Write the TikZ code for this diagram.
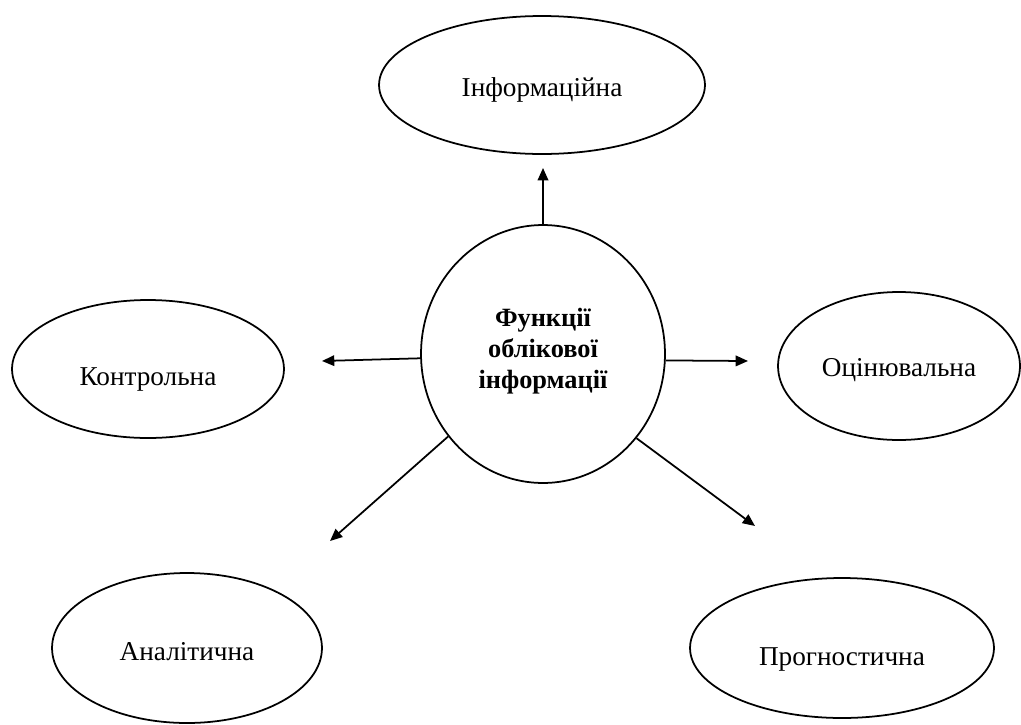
\documentclass[tikz,border=0pt]{standalone}
\usepackage{fontspec}
\setmainfont{Liberation Serif}
\usetikzlibrary{shapes.geometric,arrows.meta}
\tikzset{
  oval/.style={draw=black, line width=1pt, ellipse, inner sep=0pt, align=center},
  lbl/.style={font=\fontsize{15.5}{18}\selectfont, inner sep=0pt},
  arr/.style={draw=black, line width=1pt, -{Triangle[length=7pt,width=6pt]}},
}
\begin{document}
\begin{tikzpicture}[x=0.02cm,y=-0.02cm]
\useasboundingbox (0,0) rectangle (1021,724);
% centre
\node[oval, minimum width=4.88cm, minimum height=5.16cm,
  label={[lbl, name=ct, yshift=0.06cm, align=center,
    font=\fontsize{15}{17.6}\selectfont\bfseries]center:Функції\\облікової\\інформації}]
  (c) at (543,354) {};
% satellites
\node[oval, minimum width=6.52cm, minimum height=2.76cm,
  label={[lbl, name=inft, yshift=-0.1cm]center:Інформаційна}] (inf) at (542,85) {};
\node[oval, minimum width=5.44cm, minimum height=2.76cm,
  label={[lbl, name=kont, yshift=-0.2cm]center:Контрольна}] (kon) at (148,369) {};
\node[oval, minimum width=4.84cm, minimum height=2.96cm,
  label={[lbl, name=oct, yshift=-0.08cm]center:Оцінювальна}] (oc) at (899,366) {};
\node[oval, minimum width=5.40cm, minimum height=3.00cm,
  label={[lbl, name=ant, yshift=-0.08cm]center:Аналітична}] (an) at (187,648) {};
\node[oval, minimum width=6.08cm, minimum height=2.80cm,
  label={[lbl, name=prt, yshift=-0.22cm]center:Прогностична}] (pr) at (842,648) {};
% free arrow ends
\coordinate (tTop) at (543,168);
\coordinate (tL) at (322,361);
\coordinate (tR) at (748,361);
\coordinate (tBL) at (330,541);
\coordinate (tBR) at (755,526);
\draw[arr] (c.north) -- (tTop);
\draw[arr] (c.182) -- (tL);
\draw[arr] (c.-3) -- (tR);
\draw[arr] (c.221.8) -- (tBL);
\draw[arr] (c.318.8) -- (tBR);
\end{tikzpicture}
\end{document}
